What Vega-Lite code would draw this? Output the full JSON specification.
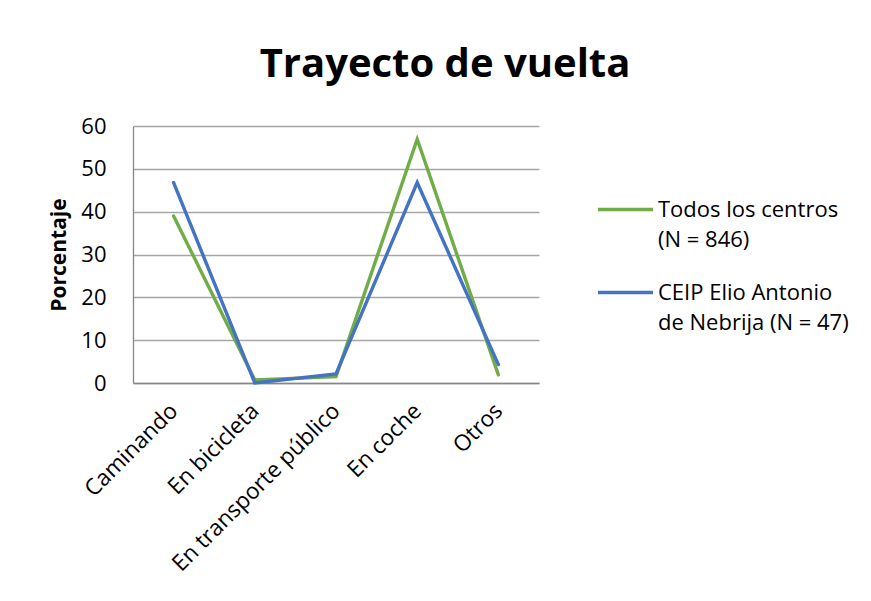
{
  "$schema": "https://vega.github.io/schema/vega-lite/v6.json",
  "width": 406,
  "height": 257,
  "autosize": {"type": "none"},
  "padding": {"left": 133, "top": 126, "right": 332, "bottom": 218},
  "background": "white",
  "title": {
    "text": "Trayecto de vuelta",
    "font": "Open Sans",
    "fontSize": 40,
    "fontWeight": "bold",
    "color": "#000000",
    "anchor": "middle",
    "dx": 109,
    "offset": 30
  },
  "data": {
    "values": [
      {"categoria": "Caminando", "serie": "Todos los centros (N = 846)", "valor": 39.0},
      {"categoria": "En bicicleta", "serie": "Todos los centros (N = 846)", "valor": 0.7},
      {"categoria": "En transporte público", "serie": "Todos los centros (N = 846)", "valor": 1.5},
      {"categoria": "En coche", "serie": "Todos los centros (N = 846)", "valor": 56.9},
      {"categoria": "Otros", "serie": "Todos los centros (N = 846)", "valor": 1.9},
      {"categoria": "Caminando", "serie": "CEIP Elio Antonio de Nebrija (N = 47)", "valor": 46.8},
      {"categoria": "En bicicleta", "serie": "CEIP Elio Antonio de Nebrija (N = 47)", "valor": 0.0},
      {"categoria": "En transporte público", "serie": "CEIP Elio Antonio de Nebrija (N = 47)", "valor": 2.1},
      {"categoria": "En coche", "serie": "CEIP Elio Antonio de Nebrija (N = 47)", "valor": 46.8},
      {"categoria": "Otros", "serie": "CEIP Elio Antonio de Nebrija (N = 47)", "valor": 4.3}
    ]
  },
  "mark": {"type": "line", "strokeWidth": 3.4, "strokeCap": "round", "strokeJoin": "miter"},
  "encoding": {
    "x": {
      "field": "categoria",
      "type": "nominal",
      "sort": ["Caminando", "En bicicleta", "En transporte público", "En coche", "Otros"],
      "scale": {"paddingOuter": 0.5, "paddingInner": 1},
      "axis": {
        "title": null,
        "labelAngle": -45,
        "labelAlign": "right",
        "labelBaseline": "middle",
        "labelFont": "Open Sans",
        "labelFontSize": 22.5,
        "labelColor": "#000000",
        "labelPadding": 24,
        "ticks": false,
        "domainColor": "#868686",
        "domainWidth": 1.3,
        "grid": false,
        "labelLimit": 400
      }
    },
    "y": {
      "field": "valor",
      "type": "quantitative",
      "scale": {"domain": [0, 60], "nice": false},
      "axis": {
        "title": "Porcentaje",
        "titleFont": "Open Sans",
        "titleFontSize": 21,
        "titleFontWeight": "bold",
        "titleColor": "#000000",
        "titlePadding": 11,
        "values": [0, 10, 20, 30, 40, 50, 60],
        "labelFont": "Open Sans",
        "labelFontSize": 22,
        "labelColor": "#000000",
        "labelPadding": 27,
        "ticks": false,
        "domainColor": "#868686",
        "domainWidth": 1.3,
        "gridColor": "#a6a6a6",
        "gridWidth": 1.3
      }
    },
    "color": {
      "field": "serie",
      "type": "nominal",
      "sort": ["Todos los centros (N = 846)", "CEIP Elio Antonio de Nebrija (N = 47)"],
      "scale": {"range": ["#70ad47", "#4472c4"]},
      "legend": {
        "title": null,
        "orient": "none",
        "legendX": 463,
        "legendY": 54,
        "symbolType": "stroke",
        "symbolSize": 3025,
        "symbolStrokeWidth": 3.4,
        "labelFont": "Open Sans",
        "labelFontSize": 22,
        "labelColor": "#000000",
        "labelOffset": 3,
        "labelLimit": 400,
        "rowPadding": 12,
        "labelExpr": "datum.value == 'Todos los centros (N = 846)' ? ['Todos los centros', '(N = 846)'] : ['CEIP Elio Antonio', 'de Nebrija (N = 47)']",
        "encode": {
          "labels": {"update": {"lineHeight": {"value": 30}}}
        }
      }
    }
  },
  "config": {"view": {"stroke": null}}
}
